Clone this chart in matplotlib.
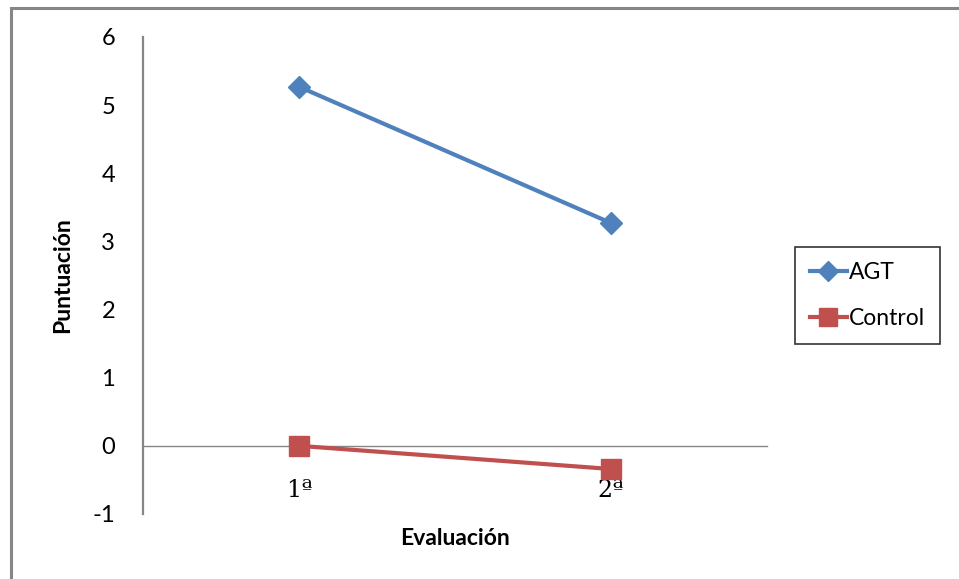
import matplotlib.pyplot as plt
from matplotlib.lines import Line2D

plt.rcParams['axes.unicode_minus'] = False

# datos
evaluaciones = ['1ª', '2ª']
agt = [5.27, 3.27]
control = [0.0, -0.34]

azul = '#4F81BD'
rojo = '#C0504D'
gris = '#868686'

fig = plt.figure(figsize=(9.59, 5.79), dpi=100)
ax = fig.add_axes([0.1491, 0.1123, 0.6507, 0.8238])

x = range(len(evaluaciones))
ax.plot(x, agt, color=azul, lw=3, marker='D', ms=11, label='AGT', zorder=3)
ax.plot(x, control, color=rojo, lw=3, marker='s', ms=14, label='Control', zorder=3)

ax.set_xlim(-0.5, 1.5)
ax.set_ylim(-1, 6)
ax.set_yticks(range(-1, 7))

# ejes al estilo de Excel
for s in ['top', 'right']:
    ax.spines[s].set_visible(False)
ax.spines['left'].set_color(gris)
ax.spines['left'].set_linewidth(1.6)
ax.spines['bottom'].set_position(('data', 0))
ax.spines['bottom'].set_color(gris)
ax.spines['bottom'].set_linewidth(1.0)
ax.tick_params(axis='y', length=0, pad=20, labelsize=17)
ax.tick_params(axis='x', length=0, pad=24)
ax.set_xticks(list(x))
ax.set_xticklabels(evaluaciones, fontsize=17, family='DejaVu Serif')
for t in ax.get_yticklabels():
    t.set_family('Lato')

ax.set_ylabel('Puntuación', fontsize=16.5, fontweight='bold', family='Lato', labelpad=14)
ax.text(0.5, -0.052, 'Evaluación', transform=ax.transAxes, ha='center', va='center',
        fontsize=16.5, fontweight='bold', family='Lato')

# leyenda
handles = [Line2D([], [], color=azul, lw=3, marker='D', ms=10),
           Line2D([], [], color=rojo, lw=3, marker='s', ms=13)]
leg = fig.legend(handles, ['AGT', 'Control'], loc='center left',
                 bbox_to_anchor=(0.829, 0.489), fancybox=False, frameon=True,
                 edgecolor='black', prop={'family': 'Lato', 'size': 16.5},
                 handlelength=1.6, handletextpad=0.1, labelspacing=1.1,
                 borderpad=0.65, borderaxespad=0)
leg.get_frame().set_linewidth(1.2)

# marco exterior
fig.add_artist(plt.Rectangle((10.5 / 959, -0.1), 2, 1.1 - 8 / 579, transform=fig.transFigure,
                             fill=False, edgecolor=gris, lw=2.2))

fig.savefig('out.png', dpi=100)
